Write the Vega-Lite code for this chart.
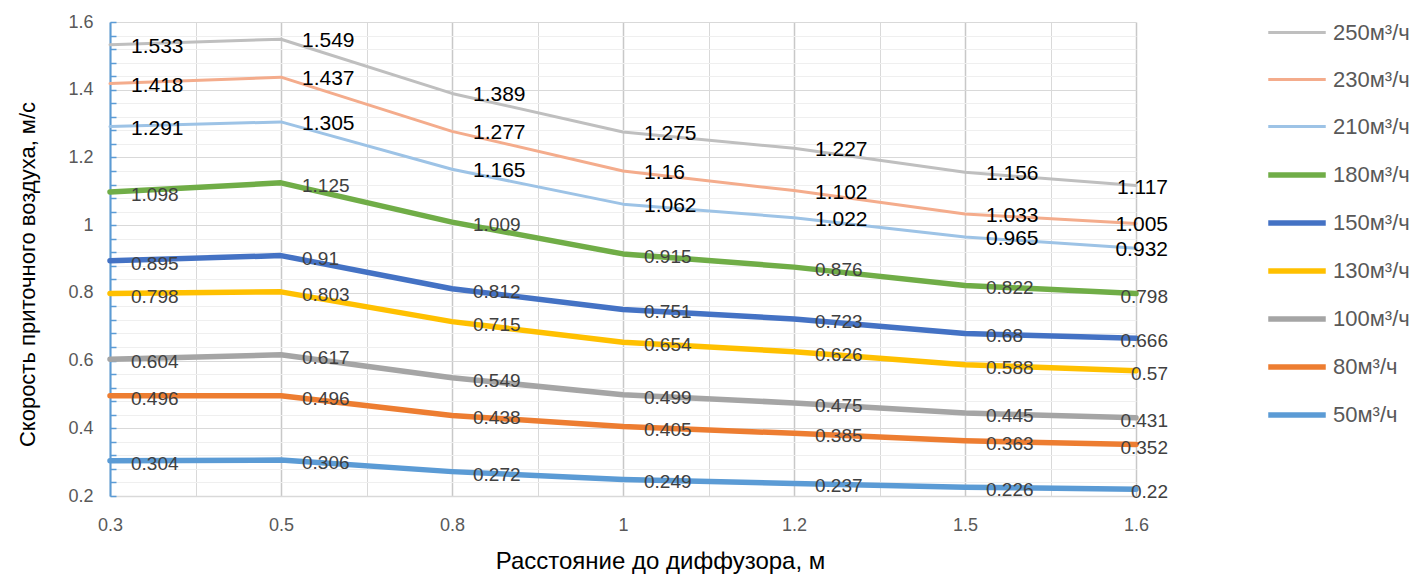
{
  "$schema": "https://vega.github.io/schema/vega-lite/v6.json",
  "autosize": "none",
  "width": 1026,
  "height": 474,
  "padding": {"left": 110, "top": 22, "right": 282, "bottom": 80},
  "background": "white",
  "config": {"view": {"stroke": null}, "font": "Liberation Sans"},
  "data": {"values": [
    {"series": "250м³/ч", "dist": "0.3", "v": 1.533}, {"series": "250м³/ч", "dist": "0.5", "v": 1.549}, {"series": "250м³/ч", "dist": "0.8", "v": 1.389}, {"series": "250м³/ч", "dist": "1", "v": 1.275}, {"series": "250м³/ч", "dist": "1.2", "v": 1.227}, {"series": "250м³/ч", "dist": "1.5", "v": 1.156}, {"series": "250м³/ч", "dist": "1.6", "v": 1.117},
    {"series": "230м³/ч", "dist": "0.3", "v": 1.418}, {"series": "230м³/ч", "dist": "0.5", "v": 1.437}, {"series": "230м³/ч", "dist": "0.8", "v": 1.277}, {"series": "230м³/ч", "dist": "1", "v": 1.16}, {"series": "230м³/ч", "dist": "1.2", "v": 1.102}, {"series": "230м³/ч", "dist": "1.5", "v": 1.033}, {"series": "230м³/ч", "dist": "1.6", "v": 1.005},
    {"series": "210м³/ч", "dist": "0.3", "v": 1.291}, {"series": "210м³/ч", "dist": "0.5", "v": 1.305}, {"series": "210м³/ч", "dist": "0.8", "v": 1.165}, {"series": "210м³/ч", "dist": "1", "v": 1.062}, {"series": "210м³/ч", "dist": "1.2", "v": 1.022}, {"series": "210м³/ч", "dist": "1.5", "v": 0.965}, {"series": "210м³/ч", "dist": "1.6", "v": 0.932},
    {"series": "180м³/ч", "dist": "0.3", "v": 1.098}, {"series": "180м³/ч", "dist": "0.5", "v": 1.125}, {"series": "180м³/ч", "dist": "0.8", "v": 1.009}, {"series": "180м³/ч", "dist": "1", "v": 0.915}, {"series": "180м³/ч", "dist": "1.2", "v": 0.876}, {"series": "180м³/ч", "dist": "1.5", "v": 0.822}, {"series": "180м³/ч", "dist": "1.6", "v": 0.798},
    {"series": "150м³/ч", "dist": "0.3", "v": 0.895}, {"series": "150м³/ч", "dist": "0.5", "v": 0.91}, {"series": "150м³/ч", "dist": "0.8", "v": 0.812}, {"series": "150м³/ч", "dist": "1", "v": 0.751}, {"series": "150м³/ч", "dist": "1.2", "v": 0.723}, {"series": "150м³/ч", "dist": "1.5", "v": 0.68}, {"series": "150м³/ч", "dist": "1.6", "v": 0.666},
    {"series": "130м³/ч", "dist": "0.3", "v": 0.798}, {"series": "130м³/ч", "dist": "0.5", "v": 0.803}, {"series": "130м³/ч", "dist": "0.8", "v": 0.715}, {"series": "130м³/ч", "dist": "1", "v": 0.654}, {"series": "130м³/ч", "dist": "1.2", "v": 0.626}, {"series": "130м³/ч", "dist": "1.5", "v": 0.588}, {"series": "130м³/ч", "dist": "1.6", "v": 0.57},
    {"series": "100м³/ч", "dist": "0.3", "v": 0.604}, {"series": "100м³/ч", "dist": "0.5", "v": 0.617}, {"series": "100м³/ч", "dist": "0.8", "v": 0.549}, {"series": "100м³/ч", "dist": "1", "v": 0.499}, {"series": "100м³/ч", "dist": "1.2", "v": 0.475}, {"series": "100м³/ч", "dist": "1.5", "v": 0.445}, {"series": "100м³/ч", "dist": "1.6", "v": 0.431},
    {"series": "80м³/ч", "dist": "0.3", "v": 0.496}, {"series": "80м³/ч", "dist": "0.5", "v": 0.496}, {"series": "80м³/ч", "dist": "0.8", "v": 0.438}, {"series": "80м³/ч", "dist": "1", "v": 0.405}, {"series": "80м³/ч", "dist": "1.2", "v": 0.385}, {"series": "80м³/ч", "dist": "1.5", "v": 0.363}, {"series": "80м³/ч", "dist": "1.6", "v": 0.352},
    {"series": "50м³/ч", "dist": "0.3", "v": 0.304}, {"series": "50м³/ч", "dist": "0.5", "v": 0.306}, {"series": "50м³/ч", "dist": "0.8", "v": 0.272}, {"series": "50м³/ч", "dist": "1", "v": 0.249}, {"series": "50м³/ч", "dist": "1.2", "v": 0.237}, {"series": "50м³/ч", "dist": "1.5", "v": 0.226}, {"series": "50м³/ч", "dist": "1.6", "v": 0.22}
  ]},
  "resolve": {"scale": {"x": "independent"}, "axis": {"x": "independent"}},
  "layer": [
    {
      "data": {"values": [{}]},
      "mark": {"type": "rule", "opacity": 0},
      "encoding": {
        "x": {"datum": 0, "type": "quantitative",
          "scale": {"domain": [0, 6], "nice": false, "zero": false},
          "axis": {"orient": "bottom", "values": [0.5, 1.5, 2.5, 3.5, 4.5, 5.5], "grid": true, "gridColor": "#D9D9D9", "gridWidth": 1, "labels": false, "ticks": false, "domain": false, "title": null}}
      }
    },
    {
      "encoding": {
        "x": {"field": "dist", "type": "ordinal", "sort": ["0.3", "0.5", "0.8", "1", "1.2", "1.5", "1.6"],
          "scale": {"type": "point", "padding": 0},
          "axis": {"orient": "bottom", "grid": true, "gridColor": "#C8C8C8", "gridWidth": 1.5, "domain": true, "domainColor": "#D9D9D9", "domainWidth": 1.5,
            "ticks": false, "tickSize": 0, "labelAngle": 0, "labelPadding": 34, "labelBaseline": "alphabetic", "labelFontSize": 18, "labelColor": "#595959", "labelFont": "Liberation Sans",
            "title": "Расстояние до диффузора, м", "titleFont": "Liberation Sans", "titleFontSize": 24, "titleFontWeight": "normal", "titleColor": "#000000",
            "titleX": 550, "titleY": 72, "titleAlign": "center", "titleBaseline": "alphabetic", "titleAngle": 0}},
        "y": {"field": "v", "type": "quantitative",
          "scale": {"domain": [0.2, 1.6], "nice": false, "zero": false},
          "axis": {"values": [0.2, 0.24, 0.28, 0.32, 0.36, 0.4, 0.44, 0.48, 0.52, 0.56, 0.6, 0.64, 0.68, 0.72, 0.76, 0.8, 0.84, 0.88, 0.92, 0.96, 1.0, 1.04, 1.08, 1.12, 1.16, 1.2, 1.24, 1.28, 1.32, 1.36, 1.4, 1.44, 1.48, 1.52, 1.56, 1.6],
            "grid": true,
            "gridColor": {"condition": {"test": "abs(datum.value*5 - round(datum.value*5)) < 0.001", "value": "#D9D9D9"}, "value": "#EFEFEF"},
            "gridWidth": 1,
            "domain": true, "domainColor": "#5B9BD5", "domainWidth": 2,
            "ticks": true, "tickColor": "#5B9BD5", "tickSize": -6, "tickWidth": 1.5,
            "labelExpr": "abs(datum.value*5 - round(datum.value*5)) < 0.001 ? format(datum.value, '.2~f') : ''",
            "labelOverlap": false, "labelPadding": 23, "labelFontSize": 18, "labelColor": "#595959", "labelFont": "Liberation Sans",
            "title": "Скорость приточного воздуха, м/с", "titleFont": "Liberation Sans", "titleFontSize": 22, "titleFontWeight": "normal", "titleColor": "#000000",
            "titleX": -76, "titleY": 252, "titleAngle": -90, "titleAlign": "center", "titleBaseline": "alphabetic"}}
      },
      "layer": [
        {
          "mark": {"type": "line", "strokeCap": "round", "strokeJoin": "round"},
          "encoding": {
            "color": {"field": "series", "type": "nominal",
              "scale": {"domain": ["250м³/ч", "230м³/ч", "210м³/ч", "180м³/ч", "150м³/ч", "130м³/ч", "100м³/ч", "80м³/ч", "50м³/ч"],
                "range": ["#BFBFBF", "#F4AC8C", "#9DC3E6", "#70AD47", "#4472C4", "#FFC000", "#A5A5A5", "#ED7D31", "#5B9BD5"]},
              "legend": {"title": null, "orient": "none", "legendX": 1161, "legendY": -14, "symbolType": "M-1.25,0H1.25", "symbolSize": 2116,
                "labelFontSize": 22, "labelColor": "#595959", "labelFont": "Liberation Sans", "rowPadding": 11, "labelOffset": 10}},
            "strokeWidth": {"field": "series", "type": "ordinal",
              "scale": {"type": "ordinal", "domain": ["250м³/ч", "230м³/ч", "210м³/ч", "180м³/ч", "150м³/ч", "130м³/ч", "100м³/ч", "80м³/ч", "50м³/ч"],
                "range": [3, 3, 3, 5.5, 5.5, 5.5, 5.5, 5.5, 5.5]},
              "legend": {"title": null, "orient": "none", "legendX": 1161, "legendY": -14, "symbolType": "M-1.25,0H1.25", "symbolSize": 2116,
                "labelFontSize": 22, "labelColor": "#595959", "labelFont": "Liberation Sans", "rowPadding": 11, "labelOffset": 10}}
          }
        },
        {
          "transform": [{"filter": "datum.dist != '1.6' && indexof(['250м³/ч','230м³/ч','210м³/ч'], datum.series) >= 0"}],
          "mark": {"type": "text", "align": "left", "baseline": "middle", "dx": 21, "dy": 2, "font": "Liberation Sans", "fontSize": 21, "color": "#000000"},
          "encoding": {"text": {"field": "v", "type": "nominal"}}
        },
        {
          "transform": [{"filter": "datum.dist != '1.6' && indexof(['250м³/ч','230м³/ч','210м³/ч'], datum.series) < 0"}],
          "mark": {"type": "text", "align": "left", "baseline": "middle", "dx": 21, "dy": 3, "font": "Liberation Sans", "fontSize": 19, "color": "#404040"},
          "encoding": {"text": {"field": "v", "type": "nominal"}}
        },
        {
          "transform": [{"filter": "datum.dist == '1.6' && indexof(['250м³/ч','230м³/ч','210м³/ч'], datum.series) >= 0"}],
          "mark": {"type": "text", "align": "right", "baseline": "middle", "dx": 32, "dy": 2, "font": "Liberation Sans", "fontSize": 21, "color": "#000000"},
          "encoding": {"text": {"field": "v", "type": "nominal"}}
        },
        {
          "transform": [{"filter": "datum.dist == '1.6' && indexof(['250м³/ч','230м³/ч','210м³/ч'], datum.series) < 0"}],
          "mark": {"type": "text", "align": "right", "baseline": "middle", "dx": 32, "dy": 3, "font": "Liberation Sans", "fontSize": 19, "color": "#404040"},
          "encoding": {"text": {"field": "v", "type": "nominal"}}
        }
      ]
    }
  ]
}
